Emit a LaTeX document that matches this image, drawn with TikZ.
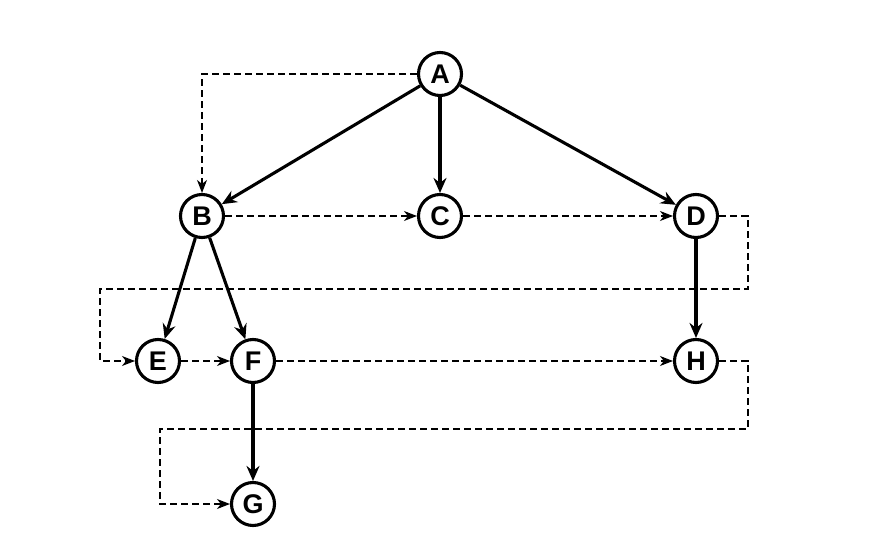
\documentclass[tikz,border=0pt]{standalone}
\usepackage{fontspec}
\setmainfont{Liberation Sans}
\usetikzlibrary{arrows.meta}
\begin{document}
\begin{tikzpicture}[x=1pt,y=-1pt,
  vert/.style={circle,draw,line width=3.1pt,minimum size=43pt,inner sep=0pt,fill=white,font=\fontsize{27}{27}\selectfont\bfseries},
  tree/.style={line width=3.1pt,-{Stealth[length=15pt,width=13pt,inset=5pt]}},
  order/.style={line width=1.1pt,dash pattern=on 7pt off 4pt,-{Stealth[length=13pt,width=10pt,inset=4pt]}}]
\useasboundingbox (0,0) rectangle (875,537);
\node[vert] (A) at (440,74) {A};
\node[vert] (B) at (202,216) {B};
\node[vert] (C) at (440,216) {C};
\node[vert] (D) at (696,216) {D};
\node[vert] (E) at (158,361) {E};
\node[vert] (F) at (253,361) {F};
\node[vert] (H) at (696,361) {H};
\node[vert] (G) at (253,504) {G};
\draw[tree] (A) -- (B);
\draw[tree] (A) -- (C);
\draw[tree] (A) -- (D);
\draw[tree] (B) -- (E);
\draw[tree] (B) -- (F);
\draw[tree] (D) -- (H);
\draw[tree] (F) -- (G);
\draw[order] (A.west) -| (B.north);
\draw[order] (B) -- (C);
\draw[order] (C) -- (D);
\draw[order] (D.east) -| (748,289) -- (100,289) |- (E.west);
\draw[order] (E) -- (F);
\draw[order] (F) -- (H);
\draw[order] (H.east) -| (748,429) -- (160,429) |- (G.west);
\end{tikzpicture}
\end{document}
